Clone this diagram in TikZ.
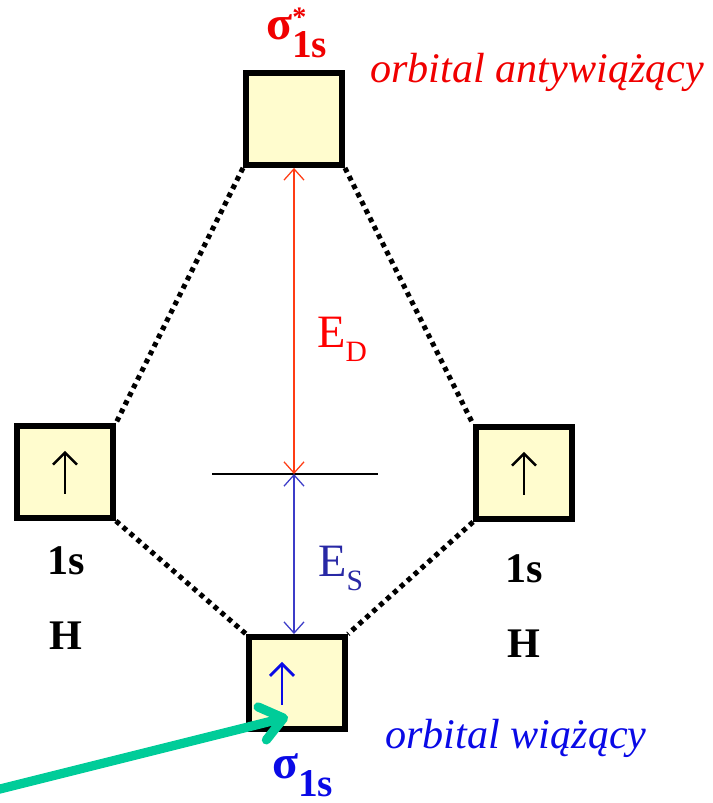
\documentclass[tikz,border=0pt]{standalone}
\usepackage{fontspec}
\setmainfont{Liberation Serif}
\usepackage{tikz}
\usetikzlibrary{
  arrows.meta,
  positioning
}
\usepackage{xcolor}
\definecolor{boxfill}{RGB}{255, 252, 206}
\definecolor{antyred}{RGB}{240, 0, 0}
\definecolor{edred}{RGB}{255, 60, 20}
\definecolor{esblue}{RGB}{60, 60, 200}
\definecolor{estext}{RGB}{40, 40, 165}
\definecolor{bondblue}{RGB}{10, 10, 230}
\definecolor{pointer}{RGB}{0, 204, 153}
\tikzset{
  % Orbitale (kwadraty)
  orbbox/.style   = {draw=black, line width=4.2pt, fill=boxfill,
                     minimum width=2.4cm, minimum height=2.3cm, inner sep=0pt},
  % Linie korelacji
  corr/.style     = {line width=3.6pt, dash pattern=on 3.4pt off 3.2pt},
  % Strzalki energii
  enarrow/.style  = {{Straight Barb[length=0.28cm,width=0.5cm]}-{Straight Barb[length=0.28cm,width=0.5cm]},
                     line width=0.9pt},
  spin/.style     = {-{Straight Barb[length=0.3cm,width=0.6cm]}, line width=1.8pt},
  ptrarrow/.style = {-{Straight Barb[round,length=0.55cm,width=0.85cm]},
                     line width=6.5pt, line cap=round, pointer},
  % Etykiety
  lab/.style      = {font=\fontsize{30}{30}\selectfont\bfseries, inner sep=0pt, anchor=base},
  symlab/.style   = {font=\fontsize{34}{34}\selectfont\bfseries, inner sep=0pt, anchor=base west},
  orblab/.style   = {font=\fontsize{30}{30}\selectfont\itshape, inner sep=0pt, anchor=base west},
  enlab/.style    = {font=\fontsize{33}{33}\selectfont, inner sep=0pt, anchor=base west},
}
\newcommand{\subsc}[2]{\raisebox{#1}{\fontsize{28}{28}\selectfont #2}}
\newcommand{\ensub}[1]{\raisebox{-0.33cm}{\fontsize{21}{21}\selectfont #1}}

\begin{document}
\begin{tikzpicture}
  \useasboundingbox (0,0) rectangle (17.8,20.075);
  % Orbitale
  \node[orbbox] (anty) at (7.35,17.1) {};
  \node[orbbox] (hl) at (1.625,8.275) {};
  \node[orbbox] (hr) at (13.1,8.25) {};
  \node[orbbox] (bond) at (7.425,3.0) {};
  % Linie kropkowane
  \draw[corr] (anty.south west) -- (hl.north east);
  \draw[corr] (anty.south east) -- (hr.north west);
  \draw[corr] (hl.south east) -- (bond.north west);
  \draw[corr] (hr.south west) -- (bond.north east);
  % Poziom 1s i energie
  \coordinate (lvlL) at (5.3,8.225);
  \coordinate (lvlR) at (9.45,8.225);
  \coordinate (lvlA) at (7.35,8.225);
  \draw[line width=0.9pt] (lvlL) -- (lvlR);
  \draw[enarrow, edred] (anty.south) -- (lvlA);
  \draw[enarrow, esblue] (lvlA) -- (lvlA |- bond.north);
  \node[enlab, red] (ed) at (7.925,11.375) {E\ensub{D}};
  \node[enlab, estext] (es) at (7.95,5.65) {E\ensub{S}};
  % Spiny
  \draw[spin] ([yshift=-0.55cm]hl.center) -- ([yshift=0.53cm]hl.center);
  \draw[spin] ([yshift=-0.55cm]hr.center) -- ([yshift=0.53cm]hr.center);
  \draw[spin, bondblue, line width=2pt] ([xshift=-0.375cm,yshift=-0.55cm]bond.center)
    -- ([xshift=-0.375cm,yshift=0.53cm]bond.center);
  % Opisy
  \node[symlab, antyred] (antysym) at (6.65,19.075)
    {σ\rlap{\raisebox{0.34cm}{\fontsize{20}{20}\selectfont *}}\subsc{-0.43cm}{1s}};
  \node[orblab, antyred] (antytxt) at (9.25,18.0) {orbital antywiążący};
  \node[lab] (hl1s) at (1.65,5.7) {1s};
  \node[lab, below=1.875cm of hl1s.base, anchor=base] (hlH) {H};
  \node[lab] (hr1s) at (13.1,5.5) {1s};
  \node[lab, below=1.875cm of hr1s.base, anchor=base] (hrH) {H};
  \node[symlab, bondblue] (bondsym) at (6.8,0.6)
    {σ\subsc{-0.43cm}{1s}};
  \node[orblab, bondblue] (bondtxt) at (9.625,1.35) {orbital wiążący};
  % Strzalka wskazujaca
  \coordinate (ptr) at (-0.4,0.25);
  \draw[ptrarrow] (ptr) -- ([xshift=-0.225cm,yshift=-0.85cm]bond.center);
\end{tikzpicture}
\end{document}
